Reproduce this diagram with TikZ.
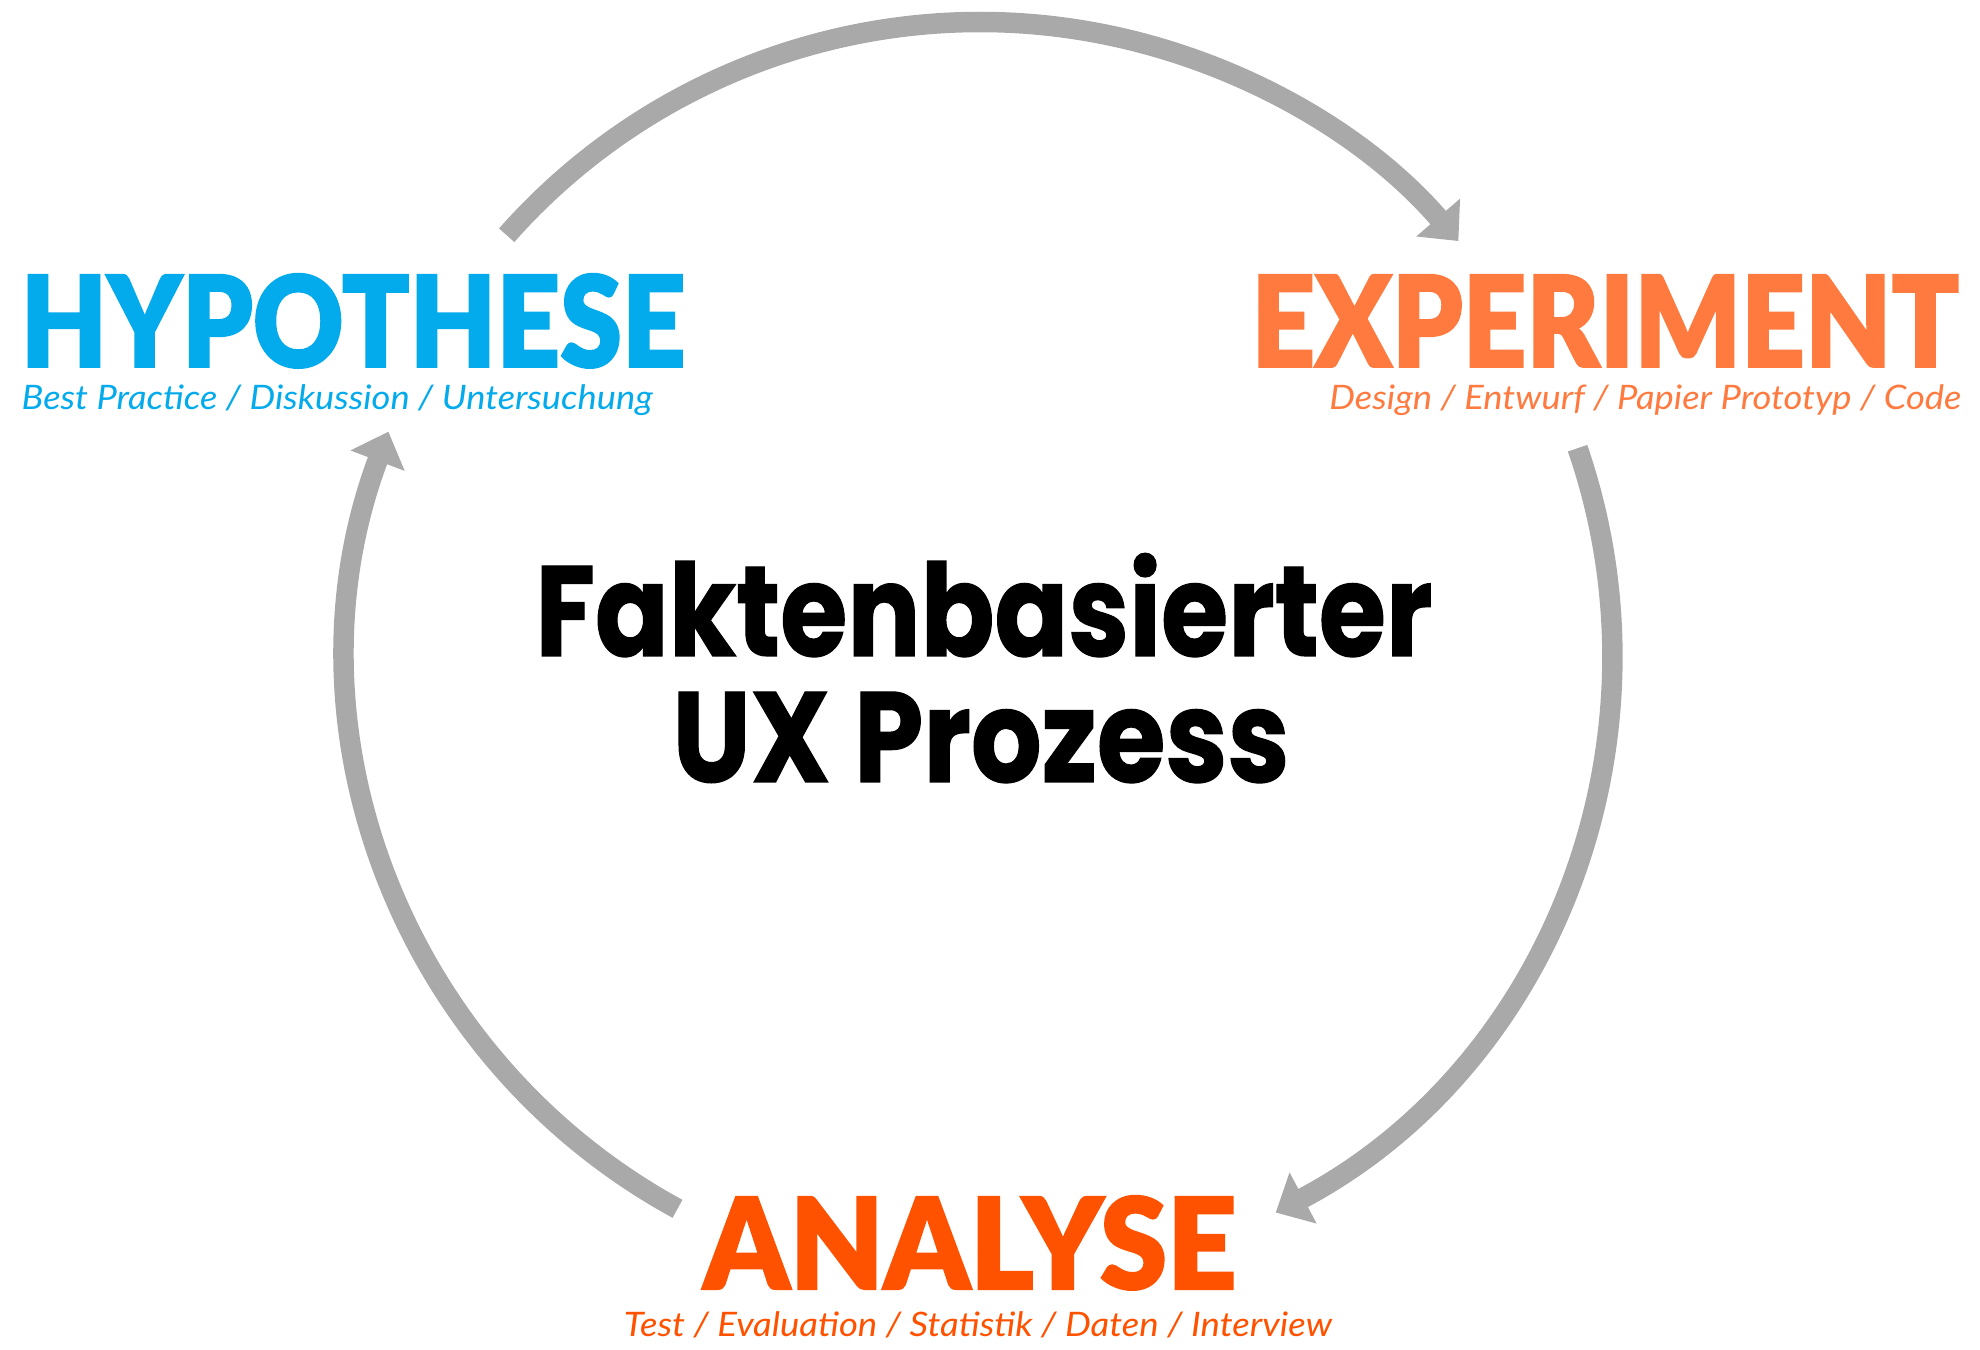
\documentclass[tikz,border=0pt]{standalone}
\usepackage{fontspec}
\usepackage{graphicx}
\usepackage{xcolor}
\setmainfont{Lato}
\newfontfamily\headfont{Lato Black}[FakeBold=1.6]
\newfontfamily\titlefont{Poppins}[BoldFeatures={FakeBold=1}]
\definecolor{hypblue}{HTML}{03AAEC}
\definecolor{exporange}{HTML}{FF7A3F}
\definecolor{anaorange}{HTML}{FF5200}
\definecolor{cyclegray}{HTML}{A9A9A9}
\usetikzlibrary{arrows.meta, calc}
% squeeze a text to a given width, keep its height
\newcommand{\widthto}[2]{\resizebox{#1}{\height}{#2}}

\begin{document}
\begin{tikzpicture}[x=0.1mm, y=0.1mm,
    phase/.style={inner sep=0pt, font=\headfont\fontsize{36}{36}\selectfont},
    detail/.style={inner sep=0pt, font=\itshape\fontsize{9.6}{10}\selectfont},
    headline/.style={inner sep=0pt, anchor=base, font=\titlefont\bfseries\fontsize{36.5}{36}\selectfont},
    cyclearc/.style={cyclegray, line width=2.05mm, -{Triangle[length=3.1mm, width=5.6mm]}}]
  % canvas 1980 x 1350, y pointing up
  \useasboundingbox (0,0) rectangle (1980,1350);
  \coordinate (c) at (980,696);
  \def\r{63.2mm}
  % The three phases.
  \node[phase, text=hypblue, anchor=base west]    (hyp)    at (20,983)  {\widthto{66.5mm}{HYPOTHESE}};
  \node[detail, text=hypblue, anchor=base west]   (hypsub) at (21,940)  {\widthto{63.1mm}{Best Practice / Diskussion / Untersuchung}};
  \node[phase, text=exporange, anchor=base east]  (exp)    at (1960,983) {\widthto{70.8mm}{EXPERIMENT}};
  \node[detail, text=exporange, anchor=base east] (expsub) at (1962,940) {\widthto{63.2mm}{Design / Entwurf / Papier Prototyp / Code}};
  \node[phase, text=anaorange, anchor=base]       (ana)    at (970,61)  {\widthto{53.3mm}{ANALYSE}};
  \node[detail, text=anaorange, anchor=base]      (anasub) at (978,13)  {\widthto{70.8mm}{Test / Evaluation / Statistik / Daten / Interview}};
  % Title in the middle.
  \node[headline] (fakten) at (984,694) {\widthto{89.7mm}{Faktenbasierter}};
  \node[headline] (ux)     at (981,568) {\widthto{61.7mm}{UX Prozess}};
  % Cycle: hypothesis -> experiment -> analysis -> hypothesis.
  \coordinate (hypout) at ($(c)+(138.5:\r)$);
  \coordinate (expout) at ($(c)+(19:\r)$);
  \coordinate (anaout) at ($(c)+(241.4:\r)$);
  \draw[cyclearc] (hypout) arc[start angle=138.5, end angle=40.8, radius=\r];
  \draw[cyclearc] (expout) arc[start angle=19, end angle=-62.1, radius=\r];
  \draw[cyclearc] (anaout) arc[start angle=241.4, end angle=159.4, radius=\r];
\end{tikzpicture}
\end{document}
